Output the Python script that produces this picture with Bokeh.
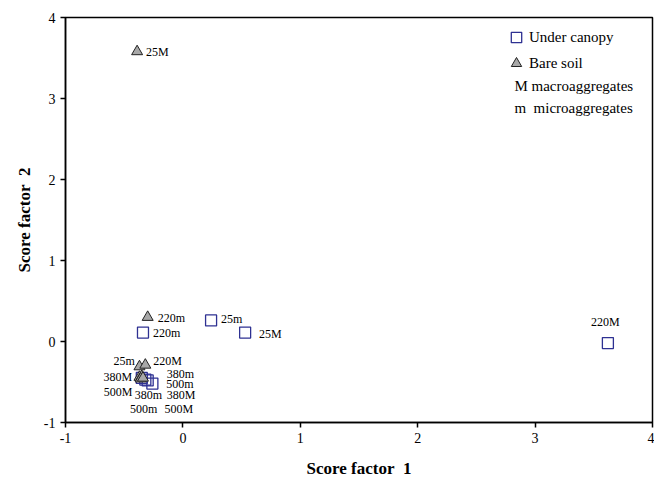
from bokeh.plotting import figure
from bokeh.models import (ColumnDataSource, Range1d, FixedTicker, Legend, LegendItem, Label,
                          PrintfTickFormatter)
from bokeh.core.properties import value
from bokeh.embed import file_html
from bokeh.resources import INLINE

# ---- data ----
sample_names = ["25M", "25m", "220M", "220m", "380M", "380m", "500M", "500m"]

canopy_x = [0.53, 0.24, 3.62, -0.34, -0.30, -0.35, -0.26, -0.32]
canopy_y = [0.11, 0.26, -0.02, 0.11, -0.48, -0.45, -0.52, -0.47]

bare_x = [-0.39, -0.37, -0.32, -0.30, -0.37, -0.35, -0.36, -0.34]
bare_y = [3.58, -0.31, -0.29, 0.30, -0.44, -0.43, -0.46, -0.45]

x_ticks = [-1, 0, 1, 2, 3, 4]
y_ticks = [-1, 0, 1, 2, 3, 4]

# label offsets (screen px) relative to each point
canopy_dx = [14, 10, -17, 10, 19, 25, 12, 21]
canopy_dy = [1, -1, -21, 0, 15, -4, 25, 4]
bare_dx = [9, -26, 8, 10, -36, -7, -37, -13]
bare_dy = [0, -6, -4, 1, 0, 19, 13, 31]

SERIF = "'Liberation Serif', 'Times New Roman', serif"
BLUE = "#2e3192"

p = figure(width=654, height=480, output_backend="svg", toolbar_location=None,
           x_range=Range1d(-1, 4), y_range=Range1d(-1, 4),
           min_border_left=65, min_border_right=2, min_border_top=17, min_border_bottom=53)

p.xgrid.visible = False
p.ygrid.visible = False
p.outline_line_color = "black"
p.outline_line_width = 1.5
p.background_fill_color = "white"
p.border_fill_color = "white"

for ax in (p.xaxis[0], p.yaxis[0]):
    ax.axis_line_color = "black"
    ax.axis_line_width = 1.5
    ax.major_tick_line_color = "black"
    ax.major_tick_line_width = 1.5
    ax.major_tick_out = 5
    ax.major_tick_in = 0
    ax.minor_tick_line_color = None
    ax.major_label_text_font = SERIF
    ax.major_label_text_font_size = "14px"
    ax.major_label_text_color = "black"
    ax.axis_label_text_font = SERIF
    ax.axis_label_text_font_size = "17px"
    ax.axis_label_text_font_style = "bold"
    ax.axis_label_text_color = "black"
    ax.formatter = PrintfTickFormatter(format="%d")

p.xaxis.ticker = FixedTicker(ticks=x_ticks)
p.yaxis.ticker = FixedTicker(ticks=y_ticks)
p.xaxis.axis_label = "Score factor\u00a0 1"
p.yaxis.axis_label = "Score factor\u00a0 2"
p.xaxis.major_label_standoff = 5
p.yaxis.major_label_standoff = 5
p.xaxis.axis_label_standoff = 13
p.yaxis.axis_label_standoff = 7

canopy_src = ColumnDataSource(dict(x=canopy_x, y=canopy_y, name=sample_names,
                                   dx=canopy_dx, dy=canopy_dy))
bare_src = ColumnDataSource(dict(x=bare_x, y=bare_y, name=sample_names,
                                 dx=bare_dx, dy=bare_dy))

r_can = p.scatter("x", "y", source=canopy_src, marker="square", size=11,
                  fill_color="white", fill_alpha=0.0, line_color=BLUE, line_width=1.3)
r_bare = p.scatter("x", "y", source=bare_src, marker="triangle", size=11,
                   fill_color="#a8a8a8", line_color="#222222", line_width=1.0)

for src in (canopy_src, bare_src):
    p.text("x", "y", text="name", source=src, x_offset="dx", y_offset="dy",
           text_font=value(SERIF), text_font_size="12px", text_color="black",
           text_align="left", text_baseline="middle")

legend = Legend(items=[LegendItem(label="Under canopy", renderers=[r_can]),
                       LegendItem(label="Bare soil", renderers=[r_bare])],
                location=(438, 346), orientation="vertical",
                glyph_width=26, glyph_height=26, spacing=-5, padding=0, margin=0,
                label_standoff=-3, label_text_font=SERIF, label_text_font_size="15px",
                label_text_color="black", border_line_color=None,
                background_fill_alpha=0.0)
p.add_layout(legend)

p.add_layout(Label(x=2.824, y=3.158, text="M macroaggregates", text_font=SERIF,
                   text_font_size="15px", text_baseline="middle", text_color="black"))
p.add_layout(Label(x=2.824, y=2.877, text="m\u00a0 microaggregates", text_font=SERIF,
                   text_font_size="15px", text_baseline="middle", text_color="black"))

open("out.html", "w").write(file_html(p, INLINE))
